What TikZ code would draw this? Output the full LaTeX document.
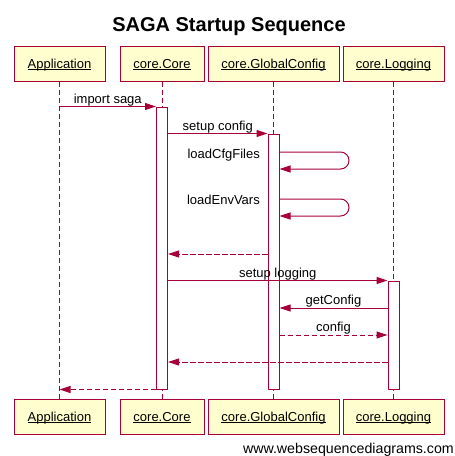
\documentclass[tikz,border=0pt]{standalone}
\usepackage{fontspec}
\setmainfont{Liberation Sans}
\usetikzlibrary{arrows.meta}
\definecolor{wsdred}{HTML}{A80036}
\definecolor{wsdfill}{HTML}{FEFECE}
\newcommand\wsdul[1]{\setbox0=\hbox{#1}\rlap{\rule[-1.6pt]{\wd0}{0.9pt}}\box0}
\begin{document}
\begin{tikzpicture}[x=1pt,y=-1pt,
  actor/.style={draw=wsdred, fill=wsdfill, line width=1pt, minimum height=35pt, inner sep=0pt, text height=9.5pt, text depth=0pt, font=\fontsize{13}{15}\selectfont},
  lifeline/.style={draw=wsdred, line width=1pt, dash pattern=on 5.5pt off 2.5pt},
  act/.style={draw=wsdred, fill=white, line width=1pt, minimum width=11pt, inner sep=0pt},
  msg/.style={draw=wsdred, line width=1pt, -{Triangle[length=11pt,width=7pt]}},
  ret/.style={msg, dash pattern=on 5.5pt off 2.5pt},
  lbl/.style={font=\fontsize{13}{15}\selectfont, inner sep=0pt, anchor=base}]
\fill[white] (0,0) rectangle (455,456);
\useasboundingbox (0,0) rectangle (455,456);
% title
\node[font=\fontsize{20}{24}\selectfont\bfseries, anchor=base, inner sep=0pt] (title) at (229,31) {SAGA Startup Sequence};
% participants
\node[actor, minimum width=91pt] (appT) at (59.5,63.5) {\wsdul{Application}};
\node[actor, minimum width=84pt] (coreT) at (162,63.5) {\wsdul{core.Core}};
\node[actor, minimum width=131pt] (gcT) at (273.5,63.5) {\wsdul{core.GlobalConfig}};
\node[actor, minimum width=101pt] (logT) at (393.5,63.5) {\wsdul{core.Logging}};
\node[actor, minimum width=91pt] (appB) at (59.5,416.5) {\wsdul{Application}};
\node[actor, minimum width=84pt] (coreB) at (162,416.5) {\wsdul{core.Core}};
\node[actor, minimum width=131pt] (gcB) at (273.5,416.5) {\wsdul{core.GlobalConfig}};
\node[actor, minimum width=101pt] (logB) at (393.5,416.5) {\wsdul{core.Logging}};
% lifelines
\draw[lifeline] (appT.south) -- (appB.north);
\draw[lifeline] (coreT.south) -- (coreB.north);
\draw[lifeline] (gcT.south) -- (gcB.north);
\draw[lifeline] (logT.south) -- (logB.north);
% activations
\node[act, minimum height=282pt] (coreA) at (162,248) {};
\node[act, minimum height=255pt] (gcA) at (273.5,261.5) {};
\node[act, minimum height=108pt] (logA) at (393.5,335) {};
% rows
\coordinate (r3a) at (0,152); \coordinate (r3b) at (0,169);
\coordinate (r4a) at (0,199); \coordinate (r4b) at (0,216);
\coordinate (r5) at (0,254);
\coordinate (r7) at (0,308);
\coordinate (r8) at (0,335);
\coordinate (r9) at (0,362);
\coordinate (loopx) at (349,0);
% messages
\draw[msg] (appT.south |- coreA.north) -- (coreA.north west) node[lbl, midway, yshift=3.5pt] {import saga};
\draw[msg] (coreA.east |- gcA.north) -- (gcA.north west) node[lbl, midway, yshift=3.5pt] {setup config};
\draw[msg, rounded corners=8.5pt] (gcA.east |- r3a) -- (loopx |- r3a) -- (loopx |- r3b) -- (gcA.east |- r3b);
\node[lbl, anchor=base east] (l3) at (260,158) {loadCfgFiles};
\draw[msg, rounded corners=8.5pt] (gcA.east |- r4a) -- (loopx |- r4a) -- (loopx |- r4b) -- (gcA.east |- r4b);
\node[lbl, anchor=base east] (l4) at (260,204) {loadEnvVars};
\draw[ret] (gcA.west |- r5) -- (coreA.east |- r5);
\draw[msg] (coreA.east |- logA.north) -- (logA.north west) node[lbl, midway, yshift=3.5pt] {setup logging};
\draw[msg] (logA.west |- r7) -- (gcA.east |- r7) node[lbl, midway, yshift=3.5pt] {getConfig};
\draw[ret] (gcA.east |- r8) -- (logA.west |- r8) node[lbl, midway, yshift=3.5pt] {config};
\draw[ret] (logA.west |- r9) -- (coreA.east |- r9);
\draw[ret] (coreA.south west) -- (appT.south |- coreA.south);
% watermark
\node[font=\fontsize{14.2}{16}\selectfont, anchor=base east, inner sep=0pt] (wm) at (454,453) {www.websequencediagrams.com};
\end{tikzpicture}
\end{document}
